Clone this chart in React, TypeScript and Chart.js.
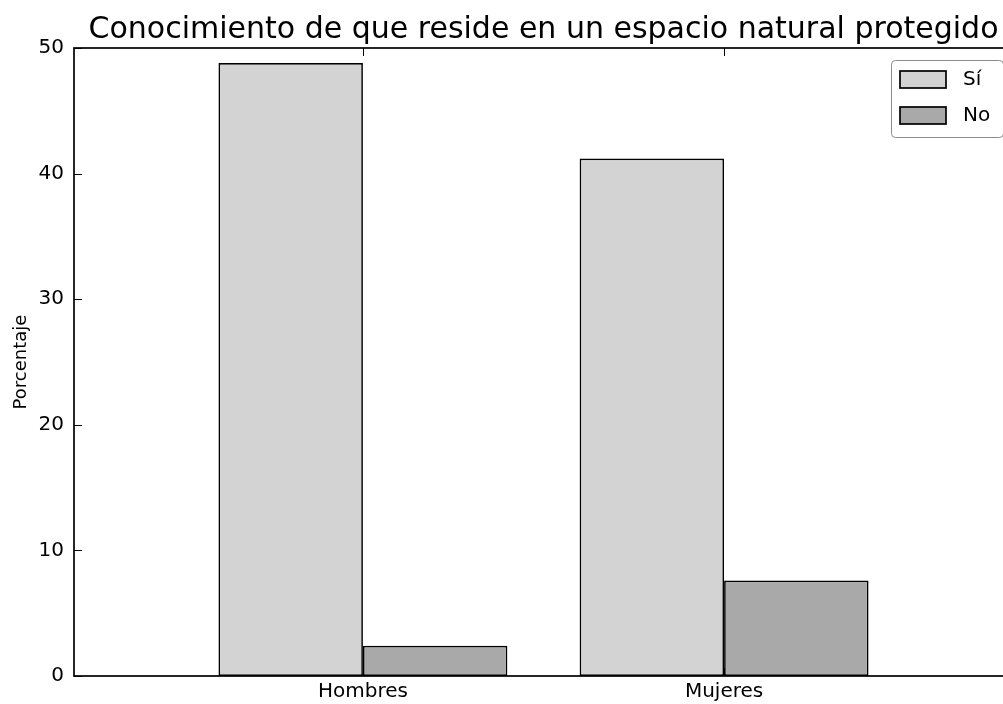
import React, { useEffect, useRef } from "react";
import { Chart, registerables } from "chart.js";

Chart.register(...registerables);

const titleText = "Conocimiento de que reside en un espacio natural protegido";
const categories = ["Hombres", "Mujeres"];
const seriesLabels = ["Sí", "No"];
const siValues = [48.8, 41.2];
const noValues = [2.4, 7.6];
const yTickValues = [0, 10, 20, 30, 40, 50];
const yLabel = "Porcentaje";
const seriesColors = ["#d3d3d3", "#a9a9a9"];

const FONT = "'DejaVu Sans', sans-serif";

const framePlugin = {
  id: "frameTicks",
  afterDraw(chart: any) {
    const { ctx, chartArea, scales } = chart;
    const { left, right, top, bottom } = chartArea;
    ctx.save();
    ctx.strokeStyle = "#000";
    ctx.lineWidth = 1;
    scales.y.ticks.forEach((t: any) => {
      const py = Math.round(scales.y.getPixelForValue(t.value)) + 0.5;
      ctx.beginPath();
      ctx.moveTo(left, py);
      ctx.lineTo(left + 8, py);
      ctx.moveTo(right, py);
      ctx.lineTo(right - 8, py);
      ctx.stroke();
    });
    scales.x.ticks.forEach((t: any) => {
      const px = Math.round(scales.x.getPixelForValue(t.value)) + 0.5;
      ctx.beginPath();
      ctx.moveTo(px, bottom);
      ctx.lineTo(px, bottom - 8);
      ctx.moveTo(px, top);
      ctx.lineTo(px, top + 8);
      ctx.stroke();
    });
    ctx.lineWidth = 1.7;
    ctx.strokeRect(left, top, right - left, bottom - top);
    ctx.restore();
  },
};

const legendPlugin = {
  id: "boxLegend",
  afterDraw(chart: any) {
    const { ctx, chartArea } = chart;
    const bx = chartArea.right - 122;
    const by = chartArea.top + 12;
    const bw = 112;
    const bh = 77;
    ctx.save();
    ctx.fillStyle = "#fff";
    ctx.strokeStyle = "#8c8c8c";
    ctx.lineWidth = 1;
    ctx.beginPath();
    (ctx as any).roundRect(bx + 0.5, by + 0.5, bw, bh, 4);
    ctx.fill();
    ctx.stroke();
    ctx.font = "20px " + FONT;
    ctx.textBaseline = "middle";
    ctx.textAlign = "left";
    chart.data.datasets.forEach((ds: any, i: number) => {
      const py = by + 11 + i * 36;
      ctx.fillStyle = ds.backgroundColor;
      ctx.fillRect(bx + 9, py, 46, 17);
      ctx.strokeStyle = "#000";
      ctx.lineWidth = 1.7;
      ctx.strokeRect(bx + 9, py, 46, 17);
      ctx.fillStyle = "#000";
      ctx.fillText(ds.label, bx + 72, py + 9);
    });
    ctx.restore();
  },
};

export default function App() {
  const ref = useRef<HTMLCanvasElement | null>(null);

  useEffect(() => {
    if (!ref.current) return;
    const values = [siValues, noValues];
    const chart = new Chart(ref.current, {
      type: "bar",
      data: {
        datasets: seriesLabels.map((label, s) => ({
          label,
          data: categories.map((_, i) => ({ x: i, y: values[s][i] })),
          backgroundColor: seriesColors[s],
          borderColor: "#000",
          borderWidth: 1.7,
          borderSkipped: false,
          categoryPercentage: 0.8,
          barPercentage: 1.0,
        })),
      },
      options: {
        responsive: false,
        animation: false,
        layout: { padding: 0 },
        plugins: {
          legend: { display: false },
          tooltip: { enabled: false },
          title: {
            display: true,
            text: titleText,
            color: "#000",
            font: { family: FONT, size: 30, weight: "normal" },
            padding: { top: 12, bottom: 0 },
          },
        },
        scales: {
          x: {
            type: "linear",
            min: -0.8,
            max: 1.8,
            offset: false,
            grid: { display: false, drawTicks: false, offset: false },
            border: { display: false },
            ticks: {
              color: "#000",
              font: { family: FONT, size: 20 },
              padding: 4,
              maxRotation: 0,
              autoSkip: false,
              callback: (v: any) => categories[v] ?? "",
            },
            afterBuildTicks: (s: any) => {
              s.ticks = categories.map((_, i) => ({ value: i }));
            },
            afterFit: (s: any) => {
              s.height = 28;
            },
          },
          y: {
            type: "linear",
            min: 0,
            max: 50,
            grid: { display: false, drawTicks: false },
            border: { display: false },
            ticks: {
              color: "#000",
              font: { family: FONT, size: 20 },
              padding: 10,
              stepSize: 10,
            },
            afterBuildTicks: (s: any) => {
              s.ticks = yTickValues.map((v) => ({ value: v }));
            },
            title: {
              display: true,
              text: yLabel,
              color: "#000",
              font: { family: FONT, size: 18 },
              padding: { top: 11, bottom: 0 },
            },
            afterFit: (s: any) => {
              s.width = 74;
            },
          },
          y2: {
            type: "linear",
            position: "right",
            display: true,
            grid: { display: false, drawTicks: false },
            border: { display: false },
            ticks: { display: false },
            afterFit: (s: any) => {
              s.width = 74;
            },
          },
        },
      },
      plugins: [framePlugin, legendPlugin],
    } as any);
    return () => chart.destroy();
  }, []);

  return (
    <div
      style={{
        position: "absolute",
        left: 0,
        top: 0,
        width: 1003,
        height: 704,
        overflow: "hidden",
        background: "#fff",
      }}
    >
      <canvas
        ref={ref}
        width={1087}
        height={704}
        style={{ width: 1087, height: 704, display: "block" }}
      />
    </div>
  );
}
